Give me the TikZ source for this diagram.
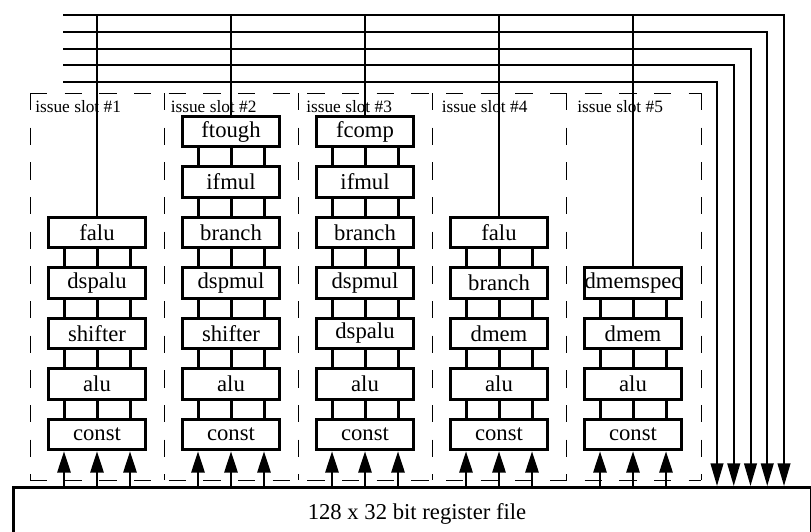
\documentclass[tikz,border=0pt]{standalone}
\usepackage{fontspec}
\setmainfont{Liberation Serif}
\usetikzlibrary{arrows.meta}

\begin{document}
\begin{tikzpicture}[x=0.75pt, y=-0.75pt,
  unit/.style={draw, line width=2.25pt, minimum width=73pt, minimum height=23pt,
               inner sep=0pt, font=\fontsize{17}{20}\selectfont},
  link/.style={line width=2.25pt},
  wire/.style={line width=1.5pt},
  bus/.style={line width=1.5pt, -{Triangle[length=17pt, width=9.5pt]}},
  feed/.style={line width=1.5pt, -{Triangle[length=16pt, width=10pt]}},
  frame/.style={line width=0.75pt, dash pattern=on 13pt off 13pt},
  slotlabel/.style={anchor=base west, inner sep=0pt, font=\fontsize{13}{15}\selectfont},
]
  \useasboundingbox (0,0) rectangle (811,532);

  % Issue slot frames
  \draw[frame] (30,93) -- (701,93);
  \draw[frame] (30,480) -- (701,480);
  \foreach \x in {30,164,298,432,566,701}
    \draw[frame] (\x,93) -- (\x,480);
  \foreach \i in {1,...,5}
    \node[slotlabel] (lbl\i) at ({35+135.5*(\i-1)},112) {issue slot \#\i};

  % Functional units
  \node[unit] (b1-3) at (97,232.5) {falu};
  \node[unit] (b1-4) at (97,283)   {dspalu};
  \node[unit] (b1-5) at (97,333.5) {shifter};
  \node[unit] (b1-6) at (97,384)   {alu};
  \node[unit] (b1-7) at (97,434.5) {const};

  \node[unit] (b2-1) at (231,131.5) {ftough};
  \node[unit] (b2-2) at (231,182)   {ifmul};
  \node[unit] (b2-3) at (231,232.5) {branch};
  \node[unit] (b2-4) at (231,283)   {dspmul};
  \node[unit] (b2-5) at (231,333.5) {shifter};
  \node[unit] (b2-6) at (231,384)   {alu};
  \node[unit] (b2-7) at (231,434.5) {const};

  \node[unit] (b3-1) at (365,131.5) {fcomp};
  \node[unit] (b3-2) at (365,182)   {ifmul};
  \node[unit] (b3-3) at (365,232.5) {branch};
  \node[unit] (b3-4) at (365,283)   {dspmul};
  \node[unit] (b3-5) at (365,333.5) {dspalu};
  \node[unit] (b3-6) at (365,384)   {alu};
  \node[unit] (b3-7) at (365,434.5) {const};

  \node[unit] (b4-3) at (499,232.5) {falu};
  \node[unit] (b4-4) at (499,283)   {branch};
  \node[unit] (b4-5) at (499,333.5) {dmem};
  \node[unit] (b4-6) at (499,384)   {alu};
  \node[unit] (b4-7) at (499,434.5) {const};

  \node[unit] (b5-4) at (633,283)   {dmemspec};
  \node[unit] (b5-5) at (633,333.5) {dmem};
  \node[unit] (b5-6) at (633,384)   {alu};
  \node[unit] (b5-7) at (633,434.5) {const};

  % Register file
  \node[draw, line width=2.25pt, anchor=north west, minimum width=598.5pt,
        minimum height=60pt] (reg) at (12,486) {};
  \node[anchor=base, font=\fontsize{17}{20}\selectfont] (regname) at (417,519)
    {128 x 32 bit register file};

  % Result buses
  \coordinate (top) at (63,15);
  \foreach \i/\y/\x in {1/15/784, 2/31.75/767.25, 3/48.5/750.5, 4/65.25/733.75, 5/82/717} {
    \coordinate (bus\i) at (63,\y);
    \draw[bus] (bus\i) -| (\x,0 |- reg.north);
  }

  % Links between units, bus taps and operand arrows
  \foreach \s/\first in {1/3, 2/1, 3/1, 4/3, 5/4} {
    \draw[wire] (b\s-\first.north |- top) -- (b\s-\first.north);
    \foreach \r in {\first,...,6} {
      \pgfmathtruncatemacro\n{\r+1}
      \foreach \d in {-24.75pt,0pt,24.75pt}
        \draw[link] ([xshift=\d]b\s-\r.south) -- ([xshift=\d]b\s-\n.north);
    }
    \foreach \d in {-24.75pt,0pt,24.75pt}
      \draw[feed] ([xshift=\d]b\s-7.south |- reg.north) -- ([xshift=\d]b\s-7.south);
  }
\end{tikzpicture}
\end{document}
